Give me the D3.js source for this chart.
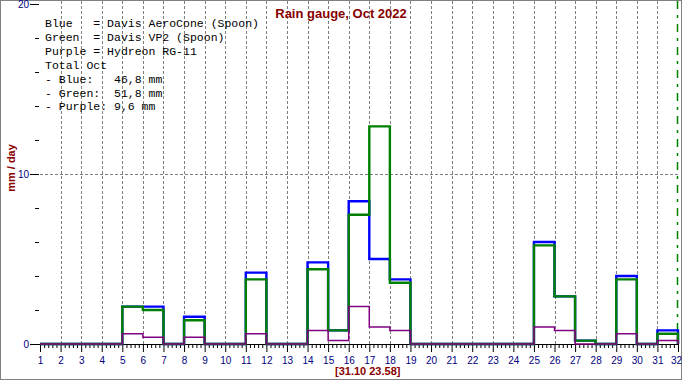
<!DOCTYPE html>
<html>
<head>
<meta charset="utf-8">
<script src="https://cdn.jsdelivr.net/npm/d3@7"></script>
<style>
  body { margin: 0; background: #fff; }
  svg { display: block; }
  .lbl { font-family: "Liberation Sans Narrow", "Liberation Sans", Arial, sans-serif; font-size: 10px; fill: #000080; }
  .red { font-family: "Liberation Sans", Arial, sans-serif; font-weight: bold; fill: #880000; }
  .legend { font-family: "Liberation Mono", "Courier New", monospace; font-size: 11.5px; fill: #000; white-space: pre; }
</style>
</head>
<body>
<svg id="RainChart" width="682" height="380"></svg>
<script>
// daily rain, mm, for days 1..31 of Oct 2022
const days = d3.range(1, 32);
const blue   = [0,0,0,0,2.2,2.2,0,1.6,0,0,4.2,0,0,4.8,0.8,8.4,5.0,3.8,0,0,0,0,0,0,6.0,2.8,0.2,0,4.0,0,0.8];
const green  = [0,0,0,0,2.2,2.0,0,1.4,0,0,3.8,0,0,4.4,0.8,7.6,12.8,3.6,0,0,0,0,0,0,5.8,2.8,0.2,0,3.8,0,0.6];
const purple = [0,0,0,0,0.6,0.4,0,0.4,0,0,0.6,0,0,0.8,0.2,2.2,1.0,0.8,0,0,0,0,0,0,1.0,0.8,0,0,0.6,0,0.2];

const xTicks = d3.range(1, 33);
const yTicks = [0, 10, 20];
const yMinor = [2, 4, 6, 8, 12, 14, 16, 18];
const title = "Rain gauge, Oct 2022";
const yTitle = "mm / day";
const stamp = "[31.10 23.58]";

const fmt = v => d3.format(".1f")(v).replace(".", ",");
const legendLines = [
  "Blue   = Davis AeroCone (Spoon)",
  "Green  = Davis VP2 (Spoon)",
  "Purple = Hydreon RG-11",
  "Total Oct",
  "- Blue:   " + fmt(d3.sum(blue)) + " mm",
  "- Green:  " + fmt(d3.sum(green)) + " mm",
  "- Purple: " + fmt(d3.sum(purple)) + " mm"
];

const svg = d3.select("#RainChart");
const W = 682, H = 380;

let xScale = d3.scaleLinear().domain([1, 32]).range([40, 678]);
let yScale = d3.scaleLinear().domain([0, 20]).range([344, 4]);

// frame
svg.append("rect").attr("x", 0.5).attr("y", 0.5).attr("width", W - 1).attr("height", H - 1)
  .attr("fill", "#fff").attr("stroke", "#808080");

// dashed grid
svg.append("g").selectAll("line").data(xTicks.slice(1, -1)).join("line")
  .attr("x1", d => Math.round(xScale(d)) + 0.5).attr("x2", d => Math.round(xScale(d)) + 0.5)
  .attr("y1", 1).attr("y2", yScale(0))
  .attr("stroke", "#808080").attr("stroke-dasharray", "3,2");
svg.append("line")
  .attr("x1", xScale(1)).attr("x2", xScale(32))
  .attr("y1", yScale(10) + 0.5).attr("y2", yScale(10) + 0.5)
  .attr("stroke", "#808080").attr("stroke-dasharray", "3,2");

// "now" marker
svg.append("line")
  .attr("x1", xScale(32) - 0.5).attr("x2", xScale(32) - 0.5)
  .attr("y1", 1).attr("y2", yScale(0))
  .attr("stroke", "#008000").attr("stroke-width", 1.5).attr("stroke-dasharray", "8,6,3,6");

// y axis
let yAxis = d3.axisLeft(yScale).tickValues(yTicks).tickSize(9).tickPadding(1);
let gy = svg.append("g").attr("transform", "translate(39,0)").call(yAxis);
gy.select(".domain").remove();
gy.selectAll("text").attr("class", "lbl").attr("fill", null).attr("font-size", null).attr("font-family", null);

let yAxisMinor = d3.axisLeft(yScale).tickValues(yMinor).tickSize(4).tickFormat("");
let gym = svg.append("g").attr("transform", "translate(39,0)").call(yAxisMinor);
gym.select(".domain").remove();

// x axis
svg.append("line").attr("x1", 30).attr("x2", xScale(32))
  .attr("y1", yScale(0) + 0.5).attr("y2", yScale(0) + 0.5).attr("stroke", "#000");

let xAxis = d3.axisBottom(xScale).tickValues(xTicks).tickSize(8).tickPadding(5).tickFormat(d3.format("d"));
let gx = svg.append("g").attr("transform", "translate(0," + yScale(0) + ")").call(xAxis);
gx.select(".domain").remove();
gx.selectAll("text").attr("class", "lbl").attr("fill", null).attr("font-size", null).attr("font-family", null)
  .attr("dx", d => d === 32 ? -2 : null);

const minor = [];
days.forEach(d => { for (let k = 1; k < 5; k++) minor.push(d + k / 5); });
let xAxisMinor = d3.axisBottom(xScale).tickValues(minor).tickSize(4).tickFormat("");
let gxm = svg.append("g").attr("transform", "translate(0," + yScale(0) + ")").call(xAxisMinor);
gxm.select(".domain").remove();

// legend text
svg.append("g").selectAll("text").data(legendLines).join("text")
  .attr("class", "legend")
  .attr("x", 45).attr("y", (d, i) => 27 + i * 13.9)
  .text(d => d);

// step series
let line = d3.line()
  .x(dt => xScale(dt[0]))
  .y(dt => yScale(dt[1]))
  .curve(d3.curveStepAfter);

function steps(vals) {
  const pts = days.map((d, i) => [d, vals[i]]);
  pts.push([32, vals[vals.length - 1]]);
  pts.push([32, 0]);
  return pts;
}

[[blue, "#0000ff", 2.4], [green, "#008000", 2.4], [purple, "#800080", 1.5]].forEach(s => {
  svg.append("path").datum(steps(s[0]))
    .attr("d", line)
    .attr("fill", "none")
    .attr("stroke", s[1])
    .attr("stroke-width", s[2]);
});

// titles
svg.append("text").attr("class", "red")
  .attr("x", W / 2).attr("y", 18).attr("text-anchor", "middle")
  .attr("font-size", 13).text(title);

svg.append("text").attr("class", "red")
  .attr("transform", "translate(15,168) rotate(-90)").attr("text-anchor", "middle")
  .attr("font-size", 11).text(yTitle);

svg.append("text").attr("class", "red")
  .attr("x", 335).attr("y", 375).attr("font-size", 11).text(stamp);
</script>
</body>
</html>
